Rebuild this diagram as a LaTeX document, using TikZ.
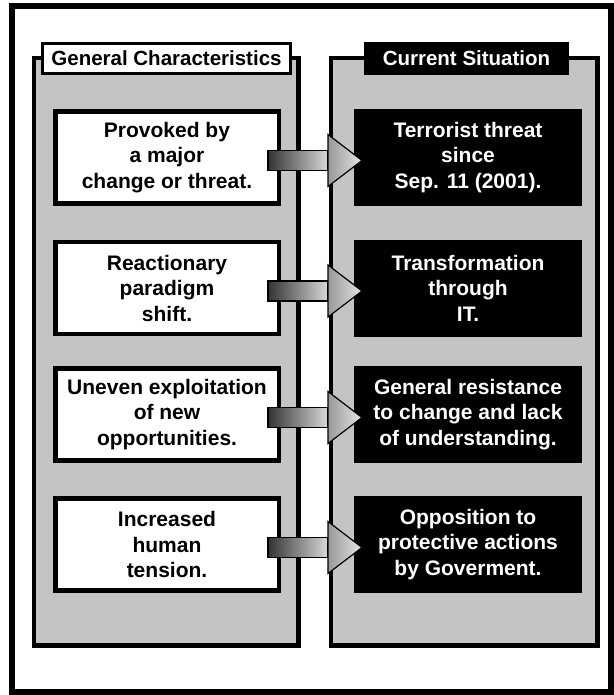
\documentclass[tikz,border=0pt]{standalone}
\usepackage{fontspec}
\setmainfont{Liberation Sans}
\usetikzlibrary{calc}
\definecolor{panelgray}{RGB}{196,196,196}
\begin{document}
\begin{tikzpicture}[x=1pt,y=-1pt,
  frame/.style={draw=black,line width=6pt},
  panel/.style={draw=black,line width=4.5pt,fill=panelgray},
  txt/.style={font=\fontsize{21}{25.5}\selectfont\bfseries,align=center,inner sep=0pt,outer sep=0pt},
  whead/.style={txt,draw=black,line width=3pt,fill=white,minimum width=248pt,minimum height=30pt,font=\fontsize{20.5}{22}\selectfont\bfseries},
  bhead/.style={txt,fill=black,text=white,minimum width=205pt,minimum height=33pt,font=\fontsize{20.5}{22}\selectfont\bfseries},
  wbox/.style={txt,draw=black,line width=4.5pt,fill=white,minimum width=223.5pt,minimum height=92pt},
  bbox/.style={txt,fill=black,text=white,minimum width=228pt,minimum height=97pt},
  shaft/.style={draw=black,line width=1.2pt,left color=black!80,right color=black!15},
  head/.style={draw=black,line width=1.2pt,left color=black!40,right color=black!10,line join=miter}
]
\useasboundingbox (0,0) rectangle (613,695);
\fill[white] (0,0) rectangle (613,695);
\draw[frame] (11.5,6.5) rectangle (611,692);

% panels
\draw[panel] (34,58) rectangle (298.5,645.5);
\draw[panel] (331,58) rectangle (597.5,645.5);

% headers
\node[whead] (hl) at (166.5,58.5) {General Characteristics};
\node[bhead] (hr) at (466.5,58.5) {Current Situation};

% left boxes
\node[wbox] (l1) at (167,157.5) {Provoked by\\a major\\change or threat.};
\node[wbox] (l2) at (167,288) {Reactionary\\paradigm\\shift.};
\node[wbox] (l3) at (167,414.5) {Uneven exploitation\\of new\\opportunities.};
\node[wbox] (l4) at (167,544.5) {Increased\\human\\tension.};

% right boxes
\node[bbox] (r1) at (468,157.5) {Terrorist threat\\since\\Sep. 11 (2001).};
\node[bbox] (r2) at (468,288) {Transformation\\through\\IT.};
\node[bbox] (r3) at (468,414.5) {General resistance\\to change and lack\\of understanding.};
\node[bbox] (r4) at (468,544.5) {Opposition to\\protective actions\\by Goverment.};

% arrows
\foreach \i in {1,...,4}{
  \draw[shaft] ($(l\i.east)+(-10.75,-7)$) rectangle ($(r\i.west)+(-26,13)$);
  \draw[head] ($(r\i.west)+(-26,-23)$) -- ($(r\i.west)+(8,3)$) -- ($(r\i.west)+(-26,29)$) -- cycle;
}
\end{tikzpicture}
\end{document}
